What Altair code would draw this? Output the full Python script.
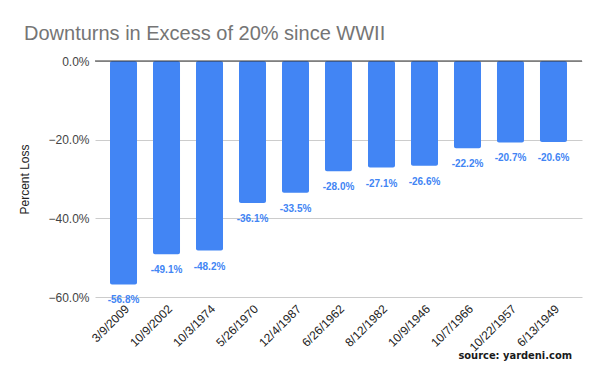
import altair as alt
import pandas as pd

dates = ["3/9/2009", "10/9/2002", "10/3/1974", "5/26/1970", "12/4/1987", "6/26/1962",
         "8/12/1982", "10/9/1946", "10/7/1966", "10/22/1957", "6/13/1949"]
losses = [-56.8, -49.1, -48.2, -36.1, -33.5, -28.0, -27.1, -26.6, -22.2, -20.7, -20.6]
y_ticks = [0, -20, -40, -60]

df = pd.DataFrame({"date": dates, "loss": losses})
df["label"] = [f"{v:.1f}%" for v in losses]

BLUE = "#4285F4"

x = alt.X("date:N", sort=dates, title=None,
          scale=alt.Scale(paddingInner=0.372, paddingOuter=0.349),
          axis=alt.Axis(labelAngle=-45, labelAlign="right", labelBaseline="top",
                        domain=False, ticks=False, labelPadding=6,
                        labelFont="Liberation Sans", labelFontSize=12, labelColor="#222222"))
y = alt.Y("loss:Q", title="Percent Loss",
          scale=alt.Scale(domain=[-60, 0], nice=False),
          axis=alt.Axis(values=y_ticks, labelExpr="format(datum.value, '.1f') + '%'",
                        domain=False, ticks=False, gridColor="#cccccc", labelPadding=6,
                        labelFont="Liberation Sans", labelFontSize=12, labelColor="#444444",
                        titleFont="Liberation Sans", titleFontSize=12, titleFontWeight="normal",
                        titleColor="#222222", titlePadding=16))

base = alt.Chart(df)
bars = base.mark_bar(color=BLUE, cornerRadius=2).encode(x=x, y=y, y2=alt.datum(0))
labels = base.mark_text(color=BLUE, font="Liberation Sans", fontSize=10, fontWeight="bold",
                        baseline="top", dy=11).encode(x=x, y="loss:Q", text="label:N")
zero = alt.Chart(pd.DataFrame({"z": [0]})).mark_rule(color="#333333", strokeWidth=1).encode(y="z:Q")
source = alt.Chart(pd.DataFrame({"t": ["source: yardeni.com"]})).mark_text(
    font="DejaVu Sans Condensed", fontSize=11, fontWeight="bold", color="#1a1a1a",
    align="right", baseline="alphabetic").encode(x=alt.value(477), y=alt.value(298), text="t:N")

chart = alt.layer(bars, zero, labels, source).properties(
    width=487, height=236,
    title=alt.TitleParams("Downturns in Excess of 20% since WWII", anchor="start", frame="group",
                          font="Liberation Sans", fontSize=20, fontWeight="normal",
                          color="#757575", dx=-71, offset=11),
    autosize=alt.AutoSizeParams(type="none"),
    padding={"left": 87, "top": 53, "right": 10, "bottom": 66},
).configure_view(stroke=None)

chart.save("out.html", embed_options={"renderer": "svg", "actions": False})
